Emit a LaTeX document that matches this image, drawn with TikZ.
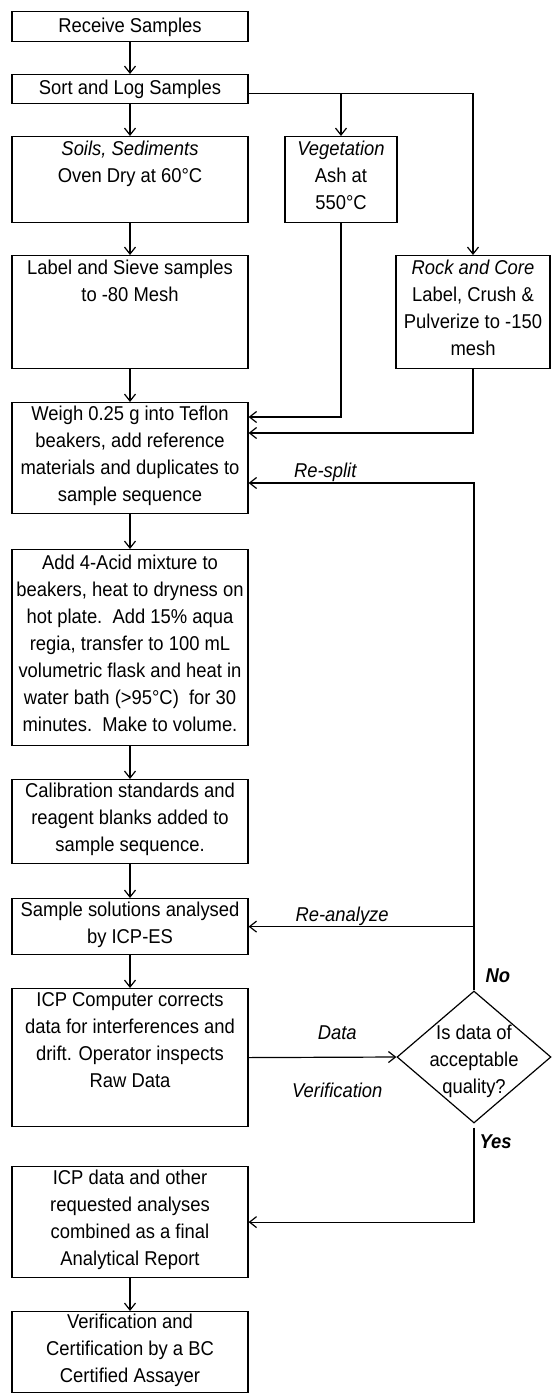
\documentclass[tikz,border=0pt]{standalone}
\usepackage{fontspec}
\setmainfont{Liberation Sans}[FakeStretch=0.92]
\usetikzlibrary{arrows.meta,positioning,shapes.geometric}

\begin{document}
\begin{tikzpicture}[
  x=1pt, y=-1pt,
  >={Straight Barb[length=7pt,width=11pt]},
  line width=1.2pt, font=\fontsize{20}{27}\selectfont,
  stepbox/.style={draw,rectangle,anchor=north,align=center,inner xsep=2pt,inner ysep=0pt,
    execute at begin node=\strut, execute at end node=\strut},
  mainbox/.style={stepbox,minimum width=236pt},
  decision/.style={draw,diamond,minimum width=154pt,minimum height=132pt,inner sep=0pt},
  flowlab/.style={font=\fontsize{20}{24}\selectfont\itshape,inner sep=1pt},
]
\useasboundingbox (0,0) rectangle (552,1393);

% --- sample preparation ---
\node[mainbox,minimum height=30pt] (receive) at (130,11) {Receive Samples};
\node[mainbox,minimum height=29pt] (sort) at (130,74) {Sort and Log Samples};
\node[mainbox,minimum height=86pt] (soils) at (130,136) {\textit{Soils, Sediments}\\Oven Dry at 60°C\\~};
\node[stepbox,minimum width=112pt,minimum height=86pt] (veg) at (341,136) {\textit{Vegetation}\\Ash at\\550°C};
\node[mainbox,minimum height=113pt] (sieve) at (130,255) {Label and Sieve samples\\to -80 Mesh\\~\\~};
\node[stepbox,minimum width=154pt,minimum height=113pt] (rock) at (473,255) {\textit{Rock and Core}\\Label, Crush \&\\Pulverize to -150\\mesh};
\node[mainbox,minimum height=111pt] (weigh) at (130,402) {Weigh 0.25 g into Teflon\\beakers, add reference\\materials and duplicates to\\sample sequence};

% --- digestion and analysis ---
\node[mainbox,minimum height=196pt] (digest) at (130,549) {Add 4-Acid mixture to\\beakers, heat to dryness on\\hot plate.\ \ Add 15\% aqua\\regia, transfer to 100 mL\\volumetric flask and heat in\\water bath (>95°C)\ \ for 30\\minutes.\ \ Make to volume.};
\node[mainbox,minimum height=84pt] (calib) at (130,779) {Calibration standards and\\reagent blanks added to\\sample sequence.};
\node[mainbox,minimum height=56pt] (icpes) at (130,898) {Sample solutions analysed\\by ICP-ES};
\node[mainbox,minimum height=138pt] (correct) at (130,988) {ICP Computer corrects\\data for interferences and\\drift. Operator inspects\\Raw Data\\~};
\node[decision] (quality) at (474,1057) {};
\node[align=center] (qtext) at ([yshift=-4pt]quality.center) {Is data of\\acceptable\\quality?};
\node[mainbox,minimum height=111pt] (report) at (130,1166) {ICP data and other\\requested analyses\\combined as a final\\Analytical Report};
\node[mainbox,minimum height=81pt] (certify) at (130,1311) {Verification and\\Certification by a BC\\Certified Assayer};

% main column
\draw[->] (receive) -- (sort);
\draw[->] (sort) -- (soils);
\draw[->] (soils) -- (sieve);
\draw[->] (sieve) -- (weigh);
\draw[->] (weigh) -- (digest);
\draw[->] (digest) -- (calib);
\draw[->] (calib) -- (icpes);
\draw[->] (icpes) -- (correct);
\draw[->] (report) -- (certify);

% side branches
\draw[->] ([yshift=-4pt]sort.east) -| (rock.north);
\draw[->] ([yshift=-4pt]sort.east -| veg.north) -- (veg.north);
\draw[->] (veg.south) |- ([yshift=-15pt]weigh.north east);
\draw[->] (rock.south) |- ([yshift=-31pt]weigh.north east);

% --- quality check loop ---
\draw[->] (correct.east) -- node[flowlab,above=16pt,pos=0.6] {Data}
  node[flowlab,below=24pt,pos=0.6] {Verification} (quality.west);
\draw[->] (quality.north) |- node[flowlab,above,pos=0.83] {Re-split} ([yshift=-81pt]weigh.north east);
\draw[->] (quality.north |- icpes.east) -- node[flowlab,above,pos=0.585,inner sep=0pt] {Re-analyze} (icpes.east);
\draw[->,shorten <=4pt] (quality.south) |- (report.east);
\node[flowlab,anchor=south west] (nolab) at ([xshift=10pt,yshift=6pt]quality.north) {\textbf{No}};
\node[flowlab,anchor=north west] (yeslab) at ([xshift=4pt,yshift=-10pt]quality.south) {\textbf{Yes}};
\end{tikzpicture}
\end{document}
